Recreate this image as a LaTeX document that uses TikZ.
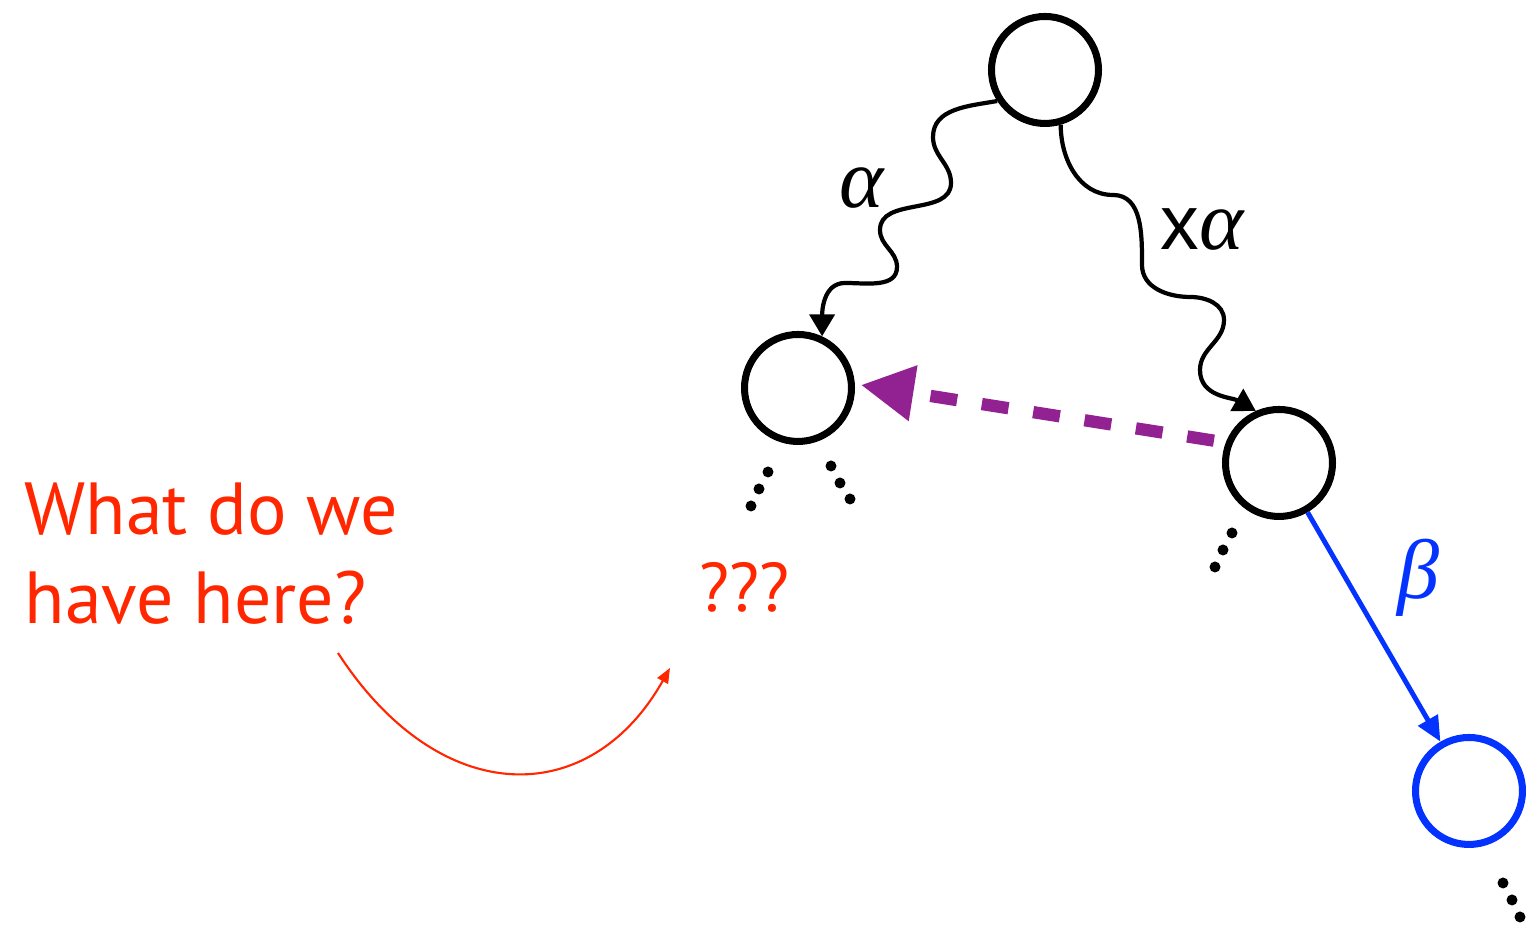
\documentclass[tikz,border=0pt]{standalone}
\usepackage{fontspec}
\usetikzlibrary{arrows.meta}
\newfontfamily\askfont{PT Sans}
\newfontfamily\greekfont{Liberation Serif}
\newfontfamily\plainfont{Liberation Sans}
\definecolor{askred}{RGB}{255, 38, 0}
\definecolor{linkpurple}{RGB}{146, 33, 146}
\definecolor{stepblue}{RGB}{4, 51, 255}

\tikzset{
  treenode/.style={circle, draw, line width=2pt, minimum size=1.07cm, inner sep=0pt},
  wavy/.style={-{Triangle[length=2.2mm, width=2.5mm]}, line width=1.2pt},
  linkedge/.style={-{Triangle[length=5.3mm, width=5.3mm]}, linkpurple, line width=3.5pt,
    dash pattern=on 2.7mm off 2.5mm, shorten <=1.2mm, shorten >=0.6mm},
  stepedge/.style={-{Triangle[length=2.5mm, width=2.2mm]}, stepblue, line width=1.4pt},
  greeklabel/.style={font=\fontsize{24}{28}\selectfont\greekfont\itshape, inner sep=0pt},
  asktext/.style={askred, font=\fontsize{21}{25.5}\selectfont\askfont, inner sep=0pt},
}

\begin{document}
\begin{tikzpicture}
    \useasboundingbox (0,0) rectangle (15.26,9.25);

    % Tree nodes
    \node[treenode] (top) at (10.45, 8.55) {};
    \node[treenode] (left) at (7.98, 5.37) {};
    \node[treenode] (right) at (12.79, 4.62) {};
    \node[treenode, stepblue] (next) at (14.69, 1.34) {};

    % Wiggly paths down the tree
    \draw[wavy] (top.213) to[out=190, in=90] (9.33, 7.88)
        to[out=-90, in=90] (9.51, 7.42)
        to[out=-90, in=90] (8.80, 6.95)
        to[out=-90, in=90] (8.97, 6.58)
        to[out=-90, in=0] (8.45, 6.42)
        to[out=180, in=90] (left.65);
    \node[greeklabel] (alab) at (8.62, 7.37) {α};
    \draw[wavy] (top.286) to[out=-90, in=180] (11.13, 7.30)
        to[out=0, in=90] (11.42, 6.60)
        to[out=-90, in=180] (11.90, 6.28)
        to[out=0, in=90] (12.24, 6.05)
        to[out=-90, in=90] (12.00, 5.55)
        to[out=-90, in=150] (right.114);
    \node[font=\fontsize{22}{26}\selectfont\plainfont, inner sep=0pt] (xalab) at (12.02, 6.95) {x{\greekfont\itshape\fontsize{24}{28}\selectfont α}};

    % Link across and the next step
    \draw[linkedge] (right.159) -- (left.4);
    \draw[stepedge] (right) -- (next);
    \node[greeklabel, stepblue] (blab) at (14.18, 3.47) {β};

    % Dots below the nodes
    \foreach \x/\y in {7.68/4.53, 7.59/4.36, 7.51/4.19, 8.31/4.59, 8.40/4.42, 8.50/4.26,
                       12.32/3.92, 12.23/3.75, 12.15/3.58, 15.03/0.42, 15.12/0.25, 15.20/0.08}
        \fill (\x,\y) circle (0.055);

    % Question
    \node[asktext, anchor=north west, align=left] (ask) at (0.24, 4.43) {What do we\\have here?};
    \node[asktext, font=\fontsize{19.6}{24}\selectfont\askfont, anchor=base west] (qmarks) at (6.99, 3.13) {???};
    \coordinate (askfrom) at (3.38, 2.72);
    \coordinate (askto) at (6.70, 2.57);
    \draw[askred, line width=0.6pt, -{Triangle[length=1.5mm, width=1.2mm]}]
        (askfrom) .. controls (4.40, 1.15) and (5.90, 1.15) .. (askto);
\end{tikzpicture}
\end{document}
